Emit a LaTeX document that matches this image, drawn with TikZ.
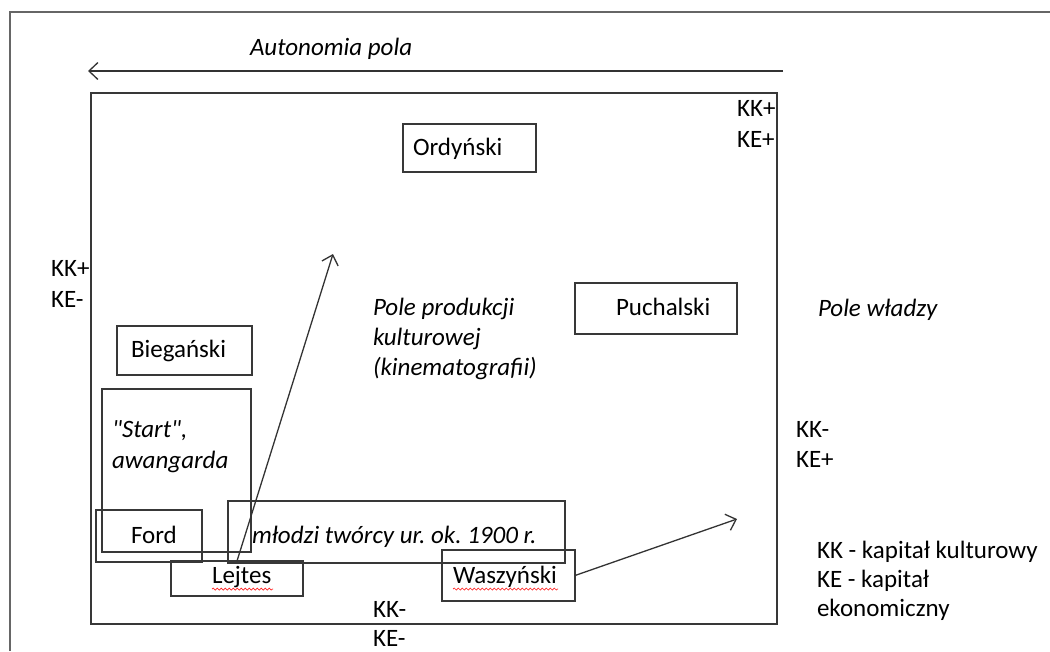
\documentclass[tikz,border=0pt]{standalone}
\usepackage{fontspec}
\setmainfont{Carlito}[Ligatures=TeXOff]
\frenchspacing
\usetikzlibrary{arrows.meta,decorations.pathmorphing}
\begin{document}
\begin{tikzpicture}[x=1pt,y=-1pt,
  every node/.style={inner sep=0pt, outer sep=0pt},
  box/.style={draw=black!78, line width=1.3pt, rectangle, anchor=north west},
  lbl/.style={font=\fontsize{25}{30}\selectfont\frenchspacing, anchor=base west, text=black},
  ilbl/.style={lbl, font=\fontsize{25}{30}\selectfont\frenchspacing\itshape},
  arr/.style={draw=black!80, line width=1.3pt,
    -{Straight Barb[length=9pt,width=17pt,line width=1.3pt]}},
  squiggle/.style={draw=red!85, line width=0.7pt, decorate,
    decoration={snake, amplitude=1pt, segment length=4pt}},
  pageframe/.style={draw=black!60, line width=2.5pt}
]
\useasboundingbox (0,0) rectangle (1050,651);

% page edge
\coordinate (fBL) at (10,651);
\coordinate (fTL) at (10,12);
\coordinate (fTR) at (1050,12);
\draw[pageframe] (fBL) -- (fTL) -- (fTR);

% autonomy of the field
\node[ilbl] (aut) at (250,55) {Autonomia pola};
\coordinate (autS) at (783,71);
\coordinate (autE) at (88,71);
\draw[arr] (autS) -- (autE);

% field of cultural production
\node[box, minimum width=686pt, minimum height=531pt] (field) at (91,93) {};

\node[lbl] (tr1) at (737,116) {KK+};
\node[lbl] (tr2) at (737,147) {KE+};

\node[lbl] (l1) at (51,276) {KK+};
\node[lbl] (l2) at (51,307) {KE-};

\node[lbl] (r1) at (796,437) {KK-};
\node[lbl] (r2) at (796,467) {KE+};

\node[lbl] (b1) at (373,617) {KK-};
\node[lbl] (b2) at (373,646) {KE-};

\node[ilbl] (pp1) at (373,315) {Pole produkcji};
\node[ilbl] (pp2) at (373,345) {kulturowej};
\node[ilbl] (pp3) at (373,375) {(kinematografii)};

\node[ilbl] (pw) at (818,316) {Pole władzy};

% legend
\node[lbl] (lg1) at (817,558) {KK - kapitał kulturowy};
\node[lbl] (lg2) at (817,587) {KE - kapitał};
\node[lbl] (lg3) at (817,616) {ekonomiczny};

% positions within the field
\node[box, minimum width=133pt, minimum height=48pt] (ordB) at (403,124) {};
\node[lbl] (ord) at (413,155) {Ordyński};

\node[box, minimum width=162pt, minimum height=51pt] (puchB) at (575,283) {};
\node[lbl] (puch) at (616,315) {Puchalski};

\node[box, minimum width=135pt, minimum height=49pt] (biegB) at (117,326) {};
\node[lbl] (bieg) at (131,357) {Biegański};

\node[box, minimum width=149pt, minimum height=163pt] (startB) at (102,389) {};
\node[ilbl] (st1) at (112,437) {"Start",};
\node[ilbl] (st2) at (112,468) {awangarda};

\node[box, minimum width=106pt, minimum height=52pt] (fordB) at (96,510) {};
\node[lbl] (ford) at (131,543) {Ford};

\node[box, minimum width=337pt, minimum height=62pt] (mlodB) at (228,501) {};
\node[ilbl] (mlod) at (252,543) {młodzi twórcy ur. ok. 1900 r.};

\node[box, minimum width=132pt, minimum height=35pt] (lejB) at (171,561) {};
\node[lbl] (lej) at (212,583) {Lejtes};
\coordinate (lejS1) at (212,589);
\coordinate (lejS2) at (273,589);
\draw[squiggle] (lejS1) -- (lejS2);

\node[box, minimum width=133pt, minimum height=51pt] (waszB) at (442,550) {};
\node[lbl] (wasz) at (453,583) {Waszyński};
\coordinate (waszS1) at (453,589);
\coordinate (waszS2) at (558,589);
\draw[squiggle] (waszS1) -- (waszS2);

% trajectories
\coordinate (lejT) at (333,254);
\draw[arr] (lejB.north) -- (lejT);
\coordinate (waszT) at (737,519);
\draw[arr] (waszB.east) -- (waszT);

\end{tikzpicture}
\end{document}
